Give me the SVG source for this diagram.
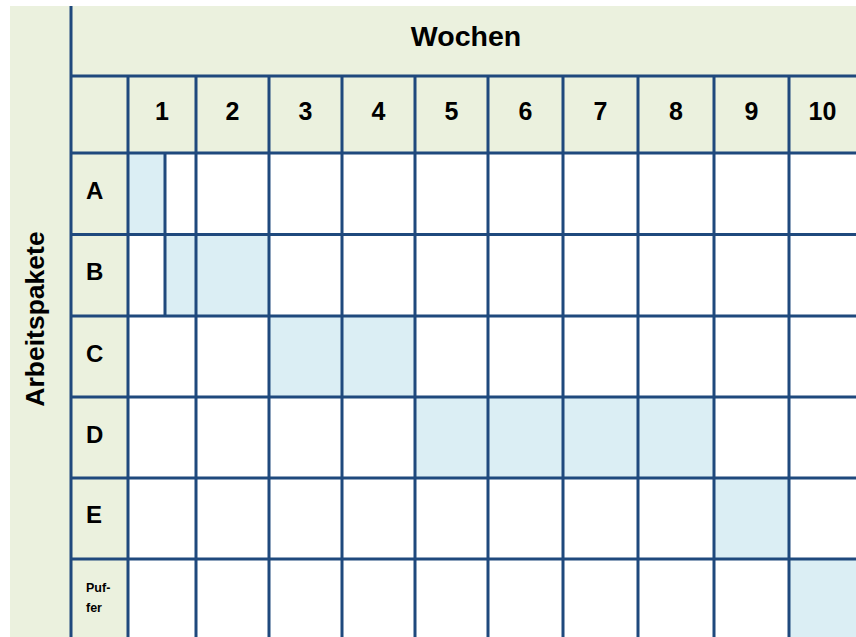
<svg xmlns="http://www.w3.org/2000/svg" width="856" height="637" viewBox="0 0 856 637">
<style>
.g{fill:#EBF1DE}
.b{fill:#DBEEF4}
.ln{stroke:#1F497D;stroke-width:3;fill:none}
text{font-family:"Liberation Sans",Arial,sans-serif;font-weight:bold;fill:#000}
.n{font-size:25px;text-anchor:middle}
.r{font-size:24px}
</style>
<rect width="856" height="637" fill="#fff"/>
<g id="background">
<rect class="g" x="10" y="6" width="846" height="147"/>
<rect class="g" x="10" y="6" width="118" height="631"/>
</g>
<g id="bars">
<rect class="b" x="128" y="153" width="37" height="81"/>
<rect class="b" x="165" y="234" width="104" height="82"/>
<rect class="b" x="269" y="316" width="146" height="81"/>
<rect class="b" x="415" y="397" width="299" height="81"/>
<rect class="b" x="714" y="478" width="75" height="81"/>
<rect class="b" x="789" y="559" width="67" height="78"/>
</g>
<g id="grid" class="ln">
<path d="M71 6V637M128 76V637M196 76V637M269 76V637M342 76V637M415 76V637M488 76V637M563 76V637M638 76V637M714 76V637M789 76V637M165 153V316"/>
<path d="M71 76H856M71 153H856M71 234.5H856M71 316H856M71 397H856M71 478H856M71 559H856"/>
</g>
<g id="title"><text x="466" y="46" font-size="28.5" text-anchor="middle">Wochen</text></g>
<g id="axis"><text transform="translate(43.5 319) rotate(-90)" font-size="26.5" text-anchor="middle">Arbeitspakete</text></g>
<g id="weeks">
<text class="n" x="162" y="120">1</text>
<text class="n" x="232.5" y="120">2</text>
<text class="n" x="305.5" y="120">3</text>
<text class="n" x="378.5" y="120">4</text>
<text class="n" x="451.5" y="120">5</text>
<text class="n" x="525.5" y="120">6</text>
<text class="n" x="600.5" y="120">7</text>
<text class="n" x="676" y="120">8</text>
<text class="n" x="751.5" y="120">9</text>
<text class="n" x="822.5" y="120">10</text>
</g>
<g id="rows">
<text class="r" x="86" y="199">A</text>
<text class="r" x="86" y="280">B</text>
<text class="r" x="86" y="362">C</text>
<text class="r" x="86" y="443">D</text>
<text class="r" x="86" y="523">E</text>
<text x="86" y="592" font-size="12.5">Puf-</text>
<text x="86" y="612" font-size="12.5">fer</text>
</g>
</svg>
